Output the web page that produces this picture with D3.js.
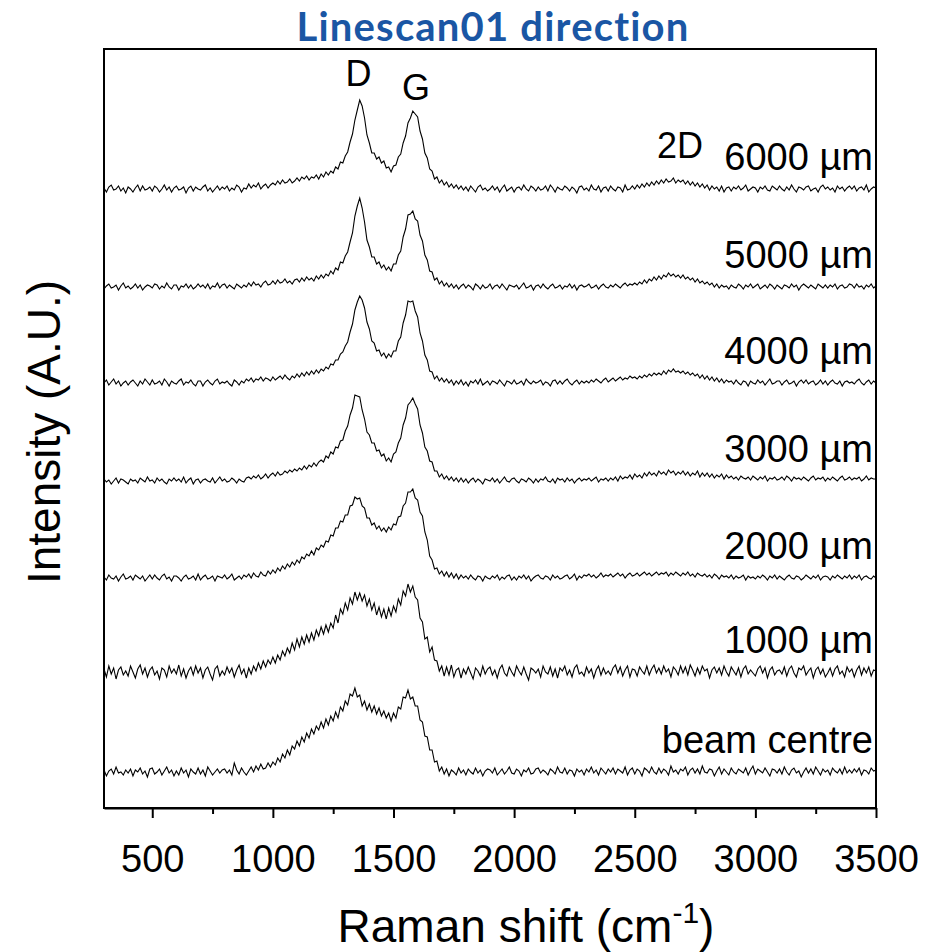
<!DOCTYPE html>
<html><head><meta charset="utf-8">
<script src="https://cdn.jsdelivr.net/npm/d3@7/dist/d3.min.js"></script>
<style>body{margin:0;background:#fff}svg{display:block}</style>
</head><body>
<svg id="chart" width="928" height="952"></svg>
<script>
// ---- data (intensity in arbitrary units) ----
const wavenumbers = d3.range(300, 3501, 10); // Raman shift grid, cm-1
const seriesNames = ["6000 µm", "5000 µm", "4000 µm", "3000 µm", "2000 µm", "1000 µm", "beam centre"];
const seriesOffsets = [619, 521, 425, 327, 230, 136, 36];
const xTicks = [500, 1000, 1500, 2000, 2500, 3000, 3500];
const xMinorTicks = [750, 1250, 1750, 2250, 2750, 3250];
const peakNames = ["D", "G", "2D"];
const peakPositions = [1355, 1593, 2688];

const s6000 = [
  1,-3,2,4,-1,0,3,-2,1,-4,
  2,0,-3,1,4,-2,3,-1,0,2,
  -2,3,1,-3,0,4,-1,2,-3,1,
  3,-1,0,2,-4,1,3,-2,2,0,
  -1,2,4,-2,1,-3,0,3,-1,2,
  0,3,-2,1,-1,4,2,-3,1,0,
  5,1,4,2,6,0,3,5,1,4,
  6,4,8,5,9,6,7,10,6,8,
  11,8,12,10,13,9,12,11,14,10,
  15,12,17,14,18,16,22,20,27,26,
  33,37,47,55,69,79,89,83,71,54,
  46,36,36,30,32,26,28,21,22,17,
  23,24,32,35,46,53,66,71,78,75,
  72,58,50,36,31,20,18,10,12,6,
  9,4,7,2,5,1,4,0,3,-1,
  2,-2,3,0,-3,2,4,-1,1,-2,
  0,3,-1,2,-3,1,4,-2,0,2,
  -3,1,2,-1,4,0,-2,3,1,-2,
  2,-1,0,3,-2,4,1,-3,2,0,
  -1,3,1,-2,2,0,-4,2,3,-1,
  1,-2,4,0,-1,3,-3,1,2,-2,
  3,0,-2,2,1,-3,4,-1,0,3,
  0,4,1,5,2,6,3,7,4,8,
  5,9,6,10,7,8,11,6,9,7,
  9,5,8,4,7,3,6,2,5,1,
  4,-1,3,0,2,-2,3,-3,1,2,
  -2,2,0,3,-1,1,4,-2,0,2,
  1,-3,2,0,3,-1,-2,3,1,-1,
  3,0,-2,2,-1,4,0,-3,2,1,
  -1,2,3,-2,0,1,-3,2,4,0,
  2,-1,1,-3,3,0,2,-2,1,3,
  0,3,-2,1,2,-1,4,-3,0,2,
  1];
const s5000 = [
  -2,1,3,-1,0,2,-3,1,4,-1,
  1,-2,0,3,-1,2,-3,0,2,1,
  -1,3,2,-2,1,-1,4,0,-2,2,
  2,-3,1,0,3,-1,2,-2,0,3,
  0,2,-1,3,-2,1,0,4,-1,2,
  3,-1,2,0,-2,3,1,-1,2,0,
  4,1,5,2,3,0,4,6,2,3,
  6,3,7,4,5,8,4,6,3,7,
  8,5,9,6,10,7,9,6,11,8,
  12,9,13,11,16,13,19,17,25,24,
  31,35,45,54,71,81,89,79,65,47,
  40,30,30,23,25,19,22,17,20,16,
  23,23,32,36,50,58,72,73,76,68,
  66,52,46,32,27,16,15,7,9,3,
  6,1,4,0,3,-1,2,-2,1,3,
  -1,2,0,-3,3,1,-2,2,-1,0,
  3,-2,1,2,-1,3,0,-3,2,1,
  0,2,-2,1,4,-1,0,2,-3,1,
  2,-1,3,0,-2,1,3,-1,0,2,
  -2,1,0,3,-1,2,-3,1,2,0,
  1,3,-1,0,2,-2,1,3,0,-1,
  2,0,3,1,-1,2,4,1,3,2,
  4,2,5,3,7,4,8,6,10,7,
  11,8,12,10,14,11,13,10,12,9,
  12,8,10,7,9,5,8,4,6,3,
  5,2,4,0,3,-1,2,0,1,-2,
  2,0,-1,3,1,-2,2,0,3,-1,
  1,3,-2,0,2,-1,3,1,-2,2,
  0,-2,2,1,-1,3,0,2,-3,1,
  3,1,-1,2,0,-2,3,1,-1,2,
  -1,2,0,3,-2,1,2,-1,0,3,
  2,-1,3,0,1,-2,2,0,3,-1,
  1];
const s4000 = [
  0,3,-2,1,4,-1,2,-3,0,2,
  -2,1,3,0,-3,2,-1,4,1,-2,
  3,-1,0,2,-2,4,1,-3,2,0,
  -1,2,4,-2,1,0,3,-1,-3,2,
  2,-3,1,3,0,-2,2,4,-1,1,
  0,2,-1,-3,3,1,-2,2,0,4,
  2,5,1,4,3,6,2,5,4,2,
  6,3,5,7,4,8,5,3,7,5,
  9,6,10,7,11,8,12,9,13,10,
  14,12,16,14,19,18,23,23,29,31,
  37,41,51,59,73,81,87,83,75,61,
  54,42,40,32,33,27,30,25,29,26,
  32,32,42,46,60,68,82,81,82,72,
  66,50,42,28,23,12,11,4,7,2,
  5,1,4,0,3,-2,2,-1,3,-2,
  1,-3,2,0,3,-1,4,-2,0,2,
  -2,2,1,-1,3,0,-3,2,1,-1,
  3,-1,0,2,-2,4,1,-1,2,0,
  1,3,-2,1,0,-3,2,3,-1,2,
  -1,2,4,0,-2,1,3,-1,2,0,
  2,0,3,1,4,2,0,3,5,1,
  3,5,2,4,6,3,5,4,7,5,
  6,4,7,5,8,6,9,7,10,8,
  10,8,12,9,13,11,14,11,12,10,
  12,9,11,8,10,7,9,5,8,4,
  7,3,6,2,5,1,4,0,3,1,
  2,-1,3,0,-2,2,1,-3,2,0,
  -1,3,0,2,-2,1,4,-1,0,2,
  2,-2,1,3,-1,0,2,-3,1,3,
  0,3,-1,1,2,-2,0,3,-1,2,
  -2,1,3,0,-1,2,-3,1,2,0,
  1,-1,2,4,0,-2,1,3,-1,2,
  0];
const s3000 = [
  2,-1,1,-3,0,3,-2,2,1,-1,
  -3,2,0,1,-2,3,1,-1,4,0,
  1,-2,3,0,2,-1,-3,2,0,3,
  0,2,-1,4,-2,1,3,-3,1,2,
  -2,1,2,0,-1,3,-2,1,4,0,
  2,-1,0,3,1,-2,2,0,-1,3,
  4,2,5,3,6,2,4,7,3,6,
  8,5,9,6,7,10,8,11,9,12,
  10,13,11,15,12,16,14,18,15,19,
  21,19,25,23,29,27,34,33,40,41,
  50,55,66,73,86,85,84,71,62,49,
  46,38,38,30,31,25,27,20,23,19,
  27,29,38,43,56,63,76,79,83,77,
  72,56,48,34,30,20,19,10,10,4,
  7,2,5,1,4,0,3,-1,3,-1,
  2,-2,1,3,-1,2,0,-3,2,1,
  0,3,-1,2,-2,1,4,0,-1,2,
  3,0,-2,2,1,-1,3,1,-2,2,
  -1,2,1,4,0,-1,2,-2,3,1,
  2,-1,3,0,2,-2,1,3,0,2,
  1,3,0,2,4,-1,2,1,3,0,
  3,1,4,0,5,2,4,3,6,2,
  7,4,6,3,8,5,9,6,8,5,
  10,7,9,6,11,8,10,6,9,7,
  10,6,9,5,8,6,10,4,8,5,
  8,4,7,3,6,4,7,2,6,3,
  5,2,4,1,5,3,2,4,1,5,
  3,1,4,2,5,0,3,2,4,1,
  2,4,1,5,3,0,4,2,3,1,
  4,2,0,3,5,1,3,2,4,0,
  3,1,4,2,0,3,5,1,2,4,
  1,3,2,4,0,2,5,1,3,2,
  2];
const s2000 = [
  1,-2,3,0,-1,2,-3,1,4,-1,
  0,2,-2,3,1,-1,2,-3,0,3,
  -1,3,0,-2,2,4,-1,1,-3,2,
  2,0,-3,1,3,-1,0,2,-2,4,
  -2,1,3,-1,0,2,-3,2,1,0,
  3,-1,1,4,-2,0,2,-1,3,1,
  4,0,5,2,1,6,3,2,7,4,
  8,5,10,7,12,9,14,11,16,13,
  18,15,21,19,24,22,27,23,30,28,
  33,31,37,36,43,42,50,50,57,56,
  63,63,72,73,81,79,80,72,70,60,
  60,53,55,49,52,47,50,46,51,48,
  54,53,61,62,72,75,86,86,89,80,
  78,66,62,46,38,22,18,9,10,4,
  7,2,6,1,5,0,4,-1,3,0,
  2,-1,3,0,-2,2,1,-3,2,0,
  -1,2,0,3,-2,1,-1,2,3,-2,
  1,-2,2,0,3,-1,2,-3,0,2,
  3,0,-1,2,1,-2,3,0,2,-1,
  0,2,3,-1,1,4,-2,2,0,3,
  2,4,1,3,0,2,5,1,3,2,
  4,1,3,5,2,4,0,3,5,2,
  3,5,2,4,6,3,5,2,4,6,
  3,5,4,6,2,5,3,6,4,2,
  5,3,6,2,4,1,5,3,2,4,
  1,3,0,4,2,-1,3,1,2,0,
  3,-1,2,0,1,3,-2,2,0,1,
  -1,2,0,3,1,-2,2,0,3,-1,
  2,0,-2,1,3,0,-1,2,1,-2,
  0,3,1,-1,2,0,3,-2,1,2,
  1,-2,2,0,3,1,-1,2,0,3,
  -1,2,0,3,-2,1,2,0,-1,2,
  0];
const s1000 = [
  3,-5,6,-2,4,-7,2,5,-3,1,
  -4,6,0,-6,3,7,-2,4,-5,2,
  5,-3,1,-7,4,2,-5,6,-1,3,
  -2,7,-4,3,-6,1,5,-3,6,-1,
  4,-6,2,5,-2,-8,3,6,-4,1,
  -3,5,-1,4,-5,2,7,-2,3,-6,
  4,-2,6,1,9,3,11,5,12,8,
  15,9,17,12,21,16,24,19,29,22,
  33,25,35,28,37,30,39,32,42,36,
  45,38,47,40,49,44,57,49,63,58,
  69,62,74,68,80,72,79,71,77,66,
  73,62,69,57,65,55,63,53,64,56,
  66,60,73,67,81,76,88,80,86,75,
  72,54,50,33,35,20,25,12,11,1,
  6,-4,5,-3,7,-5,2,4,-6,3,
  -2,5,-1,-7,4,1,-4,6,-2,3,
  5,-3,2,-6,3,7,-1,-4,5,0,
  -4,6,1,-3,5,-2,-8,4,2,-1,
  3,-5,6,0,-2,5,-4,3,-6,4,
  1,6,-3,2,-5,4,7,-2,0,-4,
  5,-1,3,-6,2,6,-3,4,-2,1,
  -3,4,7,-1,5,-4,2,6,-5,3,
  2,-4,5,1,-2,6,-3,3,7,-1,
  4,-2,6,0,3,-5,5,2,-3,6,
  -1,5,-3,7,2,-4,4,-2,6,1,
  3,-6,2,5,-1,4,-3,6,0,-4,
  5,1,-3,4,-5,3,6,-2,2,-1,
  -4,3,6,-1,4,-6,2,5,-3,1,
  2,-2,5,-4,3,6,-1,-5,4,2,
  6,-3,1,4,-6,2,5,-2,3,-5,
  -1,4,-4,3,6,-2,1,-5,5,0,
  3,-5,2,6,-3,4,-1,5,-4,2,
  1];
const sBeam = [
  2,-4,1,3,-2,5,-1,0,-3,2,
  -1,3,-4,2,0,4,-2,1,-5,3,
  4,-2,0,3,-3,1,5,-1,2,-4,
  1,-3,4,-1,2,-5,3,0,-2,4,
  -2,2,-4,5,1,-3,0,3,-1,2,
  3,-1,2,-3,9,2,-2,4,0,-3,
  1,5,0,6,2,8,3,4,9,5,
  10,7,14,10,18,14,22,17,26,23,
  31,26,35,30,39,34,43,38,46,42,
  50,44,53,47,56,51,60,54,65,61,
  71,67,78,76,84,75,77,66,71,62,
  68,60,66,58,64,56,61,54,59,51,
  59,54,65,63,75,74,82,73,75,66,
  66,52,50,36,35,22,22,10,11,1,
  5,-2,3,-4,2,0,-3,4,-1,2,
  -3,3,0,-2,4,-1,2,-4,1,3,
  2,-1,4,-3,0,3,-2,1,5,-1,
  -2,3,1,-4,2,0,4,-2,-1,3,
  4,-1,2,0,-3,3,1,-2,5,0,
  -1,4,-2,2,1,-4,3,0,2,-3,
  3,0,5,-1,2,-3,4,1,-2,3,
  0,4,-2,3,1,-1,5,-3,2,4,
  -2,3,1,-4,4,2,-1,5,0,-2,
  4,-1,3,1,-3,6,0,2,-2,3,
  1,5,-3,2,4,-1,3,-2,6,0,
  -1,3,2,-4,1,5,-2,3,0,-3,
  4,0,-2,3,1,-1,4,-3,2,6,
  -2,3,1,-1,4,0,-4,3,2,-1,
  3,-2,5,0,-3,2,4,-1,1,-5,
  0,4,-1,3,-2,5,1,-3,3,0,
  2,-3,4,1,-1,3,-2,5,-1,2,
  -1,3,0,4,-3,2,1,-2,4,1,
  2];
const seriesValues = [s6000, s5000, s4000, s3000, s2000, s1000, sBeam];
seriesValues.forEach((v, i) => {
  if (v.length !== wavenumbers.length) throw new Error(`series ${i} has ${v.length} values, expected ${wavenumbers.length}`);
});

// ---- layout ----
const M = {left: 104, right: 876, top: 49, bottom: 808};
const svg = d3.select("#chart");
const FONT = "'Liberation Sans', Arial, sans-serif";

const x = d3.scaleLinear().domain([300, 3500]).range([M.left, M.right]);
const y = d3.scaleLinear().domain([0, M.bottom - M.top]).range([M.bottom, M.top]);

// traces + labels
const line = d3.line().x(d => x(d[0])).y(d => y(d[1]));
seriesValues.forEach((vals, i) => {
  const pts = wavenumbers.map((w, j) => [w, seriesOffsets[i] + vals[j]]);
  svg.append("path").datum(pts)
    .attr("d", line).attr("fill", "none")
    .attr("stroke", "#000").attr("stroke-width", 1.1)
    .attr("stroke-linejoin", "miter");
  svg.append("text")
    .attr("x", 873).attr("y", y(seriesOffsets[i] + 19))
    .attr("text-anchor", "end")
    .attr("font-family", FONT).attr("font-size", 38)
    .attr("fill", "#000").text(seriesNames[i]);
});

// frame
svg.append("rect").attr("x", M.left).attr("y", M.top)
  .attr("width", M.right - M.left).attr("height", M.bottom - M.top)
  .attr("fill", "none").attr("stroke", "#000").attr("stroke-width", 2);

// x axis
const xAxis = d3.axisBottom(x).tickValues(xTicks).tickSize(10).tickSizeOuter(0)
  .tickPadding(27).tickFormat(d3.format("d"));
const gx = svg.append("g").attr("transform", `translate(0,${M.bottom})`).call(xAxis);
gx.select(".domain").attr("stroke-width", 2);
gx.selectAll(".tick line").attr("stroke-width", 2);
gx.selectAll(".tick text").attr("font-family", FONT).attr("font-size", 38).attr("fill", "#000");
const xMinor = d3.axisBottom(x).tickValues(xMinorTicks).tickSize(6).tickSizeOuter(0).tickFormat("");
const gm = svg.append("g").attr("transform", `translate(0,${M.bottom})`).call(xMinor);
gm.select(".domain").remove();
gm.selectAll(".tick line").attr("stroke-width", 2);

// peak annotations
const peakY = [86, 100, 158];
peakNames.forEach((n, i) => {
  svg.append("text").attr("x", x(peakPositions[i])).attr("y", peakY[i])
    .attr("text-anchor", "middle").attr("font-family", FONT).attr("font-size", 36)
    .attr("fill", "#000").text(n);
});

// title
svg.append("text").attr("x", 493).attr("y", 41).attr("text-anchor", "middle")
  .attr("font-family", "Lato, 'Open Sans', sans-serif").attr("font-weight", "bold")
  .attr("font-size", 40).attr("letter-spacing", 1.2)
  .attr("fill", "#1a56a4").text("Linescan01 direction");

// axis titles
const xt = svg.append("text").attr("x", 526).attr("y", 942).attr("text-anchor", "middle")
  .attr("font-family", FONT).attr("font-size", 46).attr("fill", "#000");
xt.append("tspan").text("Raman shift (cm");
xt.append("tspan").attr("font-size", 30).attr("dy", -19).text("-1");
xt.append("tspan").attr("dy", 19).text(")");

svg.append("text").attr("transform", "translate(60,432) rotate(-90)")
  .attr("text-anchor", "middle").attr("font-family", FONT).attr("font-size", 46)
  .attr("fill", "#000").text("Intensity (A.U.)");
</script>
</body></html>
